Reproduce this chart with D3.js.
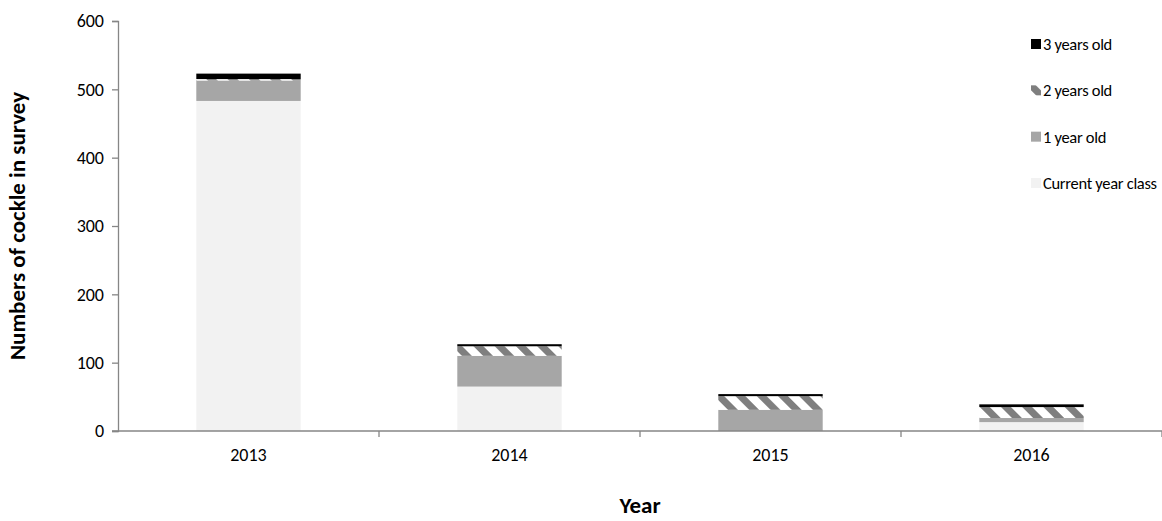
<!DOCTYPE html>
<html>
<head>
<meta charset="utf-8">
<script src="https://cdn.jsdelivr.net/npm/d3@7/dist/d3.min.js"></script>
<style>
  html, body { margin: 0; padding: 0; background: #fff; }
  svg { display: block; font-family: Carlito, Lato, "Open Sans", sans-serif; }
</style>
</head>
<body>
<svg id="chart" width="1162" height="521"></svg>
<script>
// Survey years and age-class counts
const years = ["2013", "2014", "2015", "2016"];
const currentYearClass = [483, 65, 0, 13];
const oneYearOld = [30, 45, 31, 6];
const twoYearsOld = [2, 14, 20, 16];
const threeYearsOld = [8, 3, 3, 4];
const yTicks = [0, 100, 200, 300, 400, 500, 600];

const seriesKeys = ["current", "one", "two", "three"];
const seriesNames = {
  current: "Current year class",
  one: "1 year old",
  two: "2 years old",
  three: "3 years old"
};

const rows = years.map((y, i) => ({
  year: y,
  current: currentYearClass[i],
  one: oneYearOld[i],
  two: twoYearsOld[i],
  three: threeYearsOld[i]
}));

const FONT = "Carlito, Lato, 'Open Sans', sans-serif";
const TICK_FS = 18;
const LEGEND_FS = 16.5;
const TITLE_FS = 23;

const svg = d3.select("#chart");
const margin = { left: 118, right: 0, top: 21, bottom: 90 };
const W = 1162, H = 521;

// Diagonal hatch for the 2-year-old class
const defs = svg.append("defs");
const pat = defs.append("pattern")
  .attr("id", "hatch")
  .attr("patternUnits", "userSpaceOnUse")
  .attr("width", 15).attr("height", 15)
  .attr("patternTransform", "rotate(-45)");
pat.append("rect").attr("width", 15).attr("height", 15).attr("fill", "#fff");
pat.append("rect").attr("x", 0).attr("y", 0).attr("width", 7).attr("height", 15).attr("fill", "#7f7f7f");

const fills = {
  current: "#f2f2f2",
  one: "#a6a6a6",
  two: "url(#hatch)",
  three: "#000000"
};

const x = d3.scaleBand()
  .domain(years)
  .range([margin.left, W - margin.right])
  .paddingInner(0.6)
  .paddingOuter(0.3);

const y = d3.scaleLinear()
  .domain([0, 600])
  .range([H - margin.bottom, margin.top]);

const stack = d3.stack().keys(seriesKeys)(rows);

svg.append("g")
  .selectAll("g")
  .data(stack)
  .join("g")
  .attr("fill", d => fills[d.key])
  .selectAll("rect")
  .data(d => d)
  .join("rect")
  .attr("x", d => x(d.data.year))
  .attr("width", x.bandwidth())
  .attr("y", d => y(d[1]))
  .attr("height", d => y(d[0]) - y(d[1]));

const axisColor = "#868686";

// Y axis
const yAxis = svg.append("g")
  .attr("transform", `translate(${margin.left},0)`)
  .call(d3.axisLeft(y).tickValues(yTicks).tickSize(6).tickPadding(8));
yAxis.select(".domain").attr("stroke", axisColor).attr("stroke-width", 1.3);
yAxis.selectAll(".tick line").attr("stroke", axisColor).attr("stroke-width", 1.3);
yAxis.selectAll("text").attr("font-size", TICK_FS).attr("fill", "#000")
  .attr("font-family", FONT);

// X axis with category dividers
const xAxisG = svg.append("g")
  .attr("transform", `translate(0,${y(0)})`);
xAxisG.append("line")
  .attr("x1", margin.left - 6).attr("x2", W)
  .attr("stroke", axisColor).attr("stroke-width", 1.3);
const bounds = d3.range(years.length + 1).map(i => margin.left + i * (W - margin.left) / years.length);
xAxisG.selectAll(".div")
  .data(bounds.slice(1))
  .join("line")
  .attr("x1", d => d).attr("x2", d => d)
  .attr("y1", 0).attr("y2", 6)
  .attr("stroke", axisColor).attr("stroke-width", 1.3);
xAxisG.selectAll(".lab")
  .data(years)
  .join("text")
  .attr("x", d => x(d) + x.bandwidth() / 2)
  .attr("y", 30)
  .attr("text-anchor", "middle")
  .attr("font-size", TICK_FS)
  .text(d => d);

// Axis titles
svg.append("text")
  .attr("x", (margin.left + W) / 2)
  .attr("y", 513)
  .attr("text-anchor", "middle")
  .attr("font-size", TITLE_FS)
  .attr("font-weight", "bold")
  .text("Year");

svg.append("text")
  .attr("transform", `translate(25,${(y(0) + y(600)) / 2}) rotate(-90)`)
  .attr("text-anchor", "middle")
  .attr("font-size", TITLE_FS)
  .attr("font-weight", "bold")
  .text("Numbers of cockle in survey");

// Legend (oldest class on top)
const legendKeys = ["three", "two", "one", "current"];
const legendY = d3.scalePoint().domain(legendKeys).range([44, 183]);
const lg = svg.append("g");
const item = lg.selectAll("g")
  .data(legendKeys)
  .join("g")
  .attr("transform", d => `translate(1031,${legendY(d)})`);
item.append("rect")
  .attr("x", 0).attr("y", -5)
  .attr("width", 10).attr("height", 10)
  .attr("fill", d => fills[d]);
item.append("text")
  .attr("x", 12).attr("y", 6)
  .attr("font-size", LEGEND_FS)
  .attr("letter-spacing", -0.3)
  .text(d => seriesNames[d]);
</script>
</body>
</html>
